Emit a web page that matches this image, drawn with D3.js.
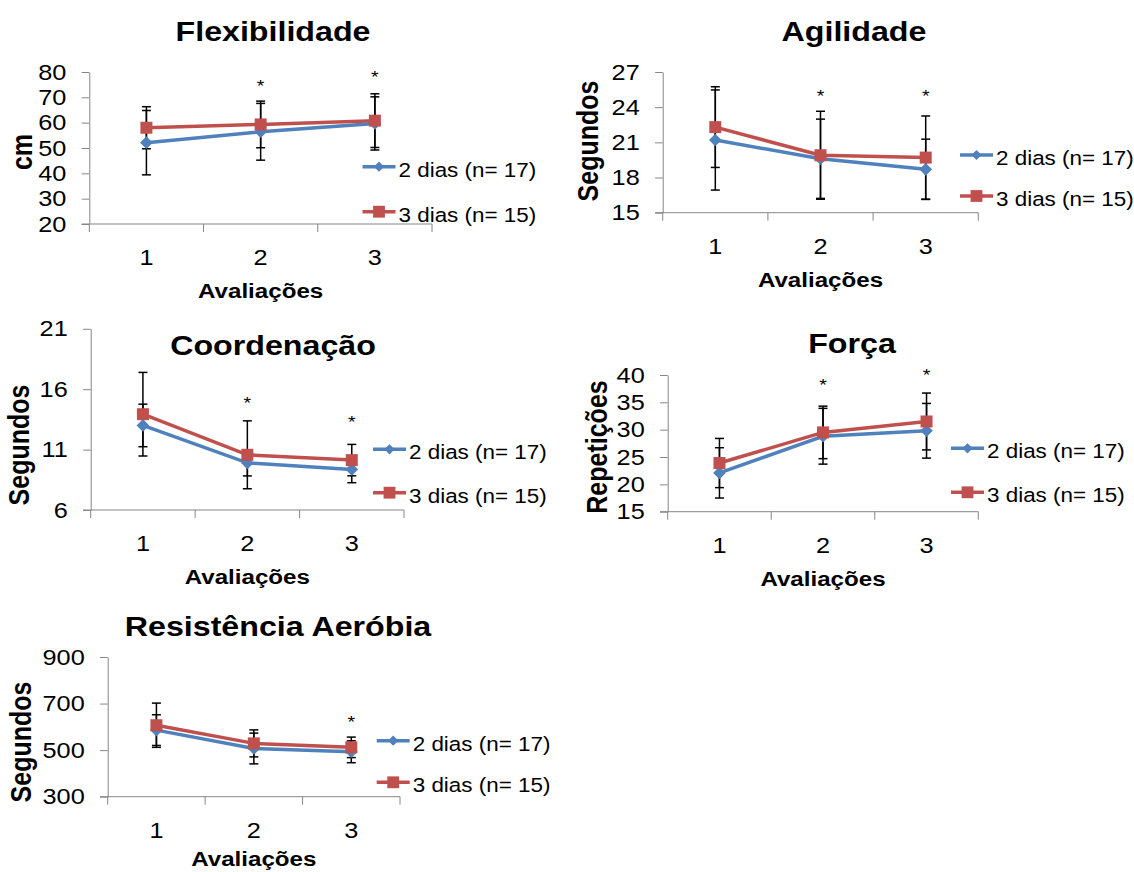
<!DOCTYPE html>
<html>
<head>
<meta charset="utf-8">
<script src="https://cdn.jsdelivr.net/npm/d3@7"></script>
<style>
  body { margin: 0; background: #fff; }
  text { font-family: "Liberation Sans", Arial, sans-serif; fill: #000; }
</style>
</head>
<body>
<script>
// categories and legend
const categories = ['1', '2', '3'];
const seriesNames = ['2 dias (n= 17)', '3 dias (n= 15)'];

// Flexibilidade (cm)
const flexTwo = [52.1, 56.4, 59.7];
const flexTwoErr = [12.7, 11.2, 10.5];
const flexThree = [58.0, 59.3, 60.8];
const flexThreeErr = [8.3, 9.2, 10.6];
const flexTicks = [20, 30, 40, 50, 60, 70, 80];
const flexStars = [['2', 75.5], ['3', 79.2]];

// Agilidade (segundos)
const agilTwo = [21.2, 19.6, 18.7];
const agilTwoErr = [4.27, 3.38, 2.57];
const agilThree = [22.3, 19.9, 19.7];
const agilThreeErr = [3.44, 3.75, 3.55];
const agilTicks = [15, 18, 21, 24, 27];
const agilStars = [['2', 25.2], ['3', 25.2]];

// Coordenação (segundos)
const coordTwo = [13.0, 9.9, 9.36];
const coordTwoErr = [1.76, 1.08, 1.1];
const coordThree = [13.93, 10.57, 10.13];
const coordThreeErr = [3.46, 2.81, 1.3];
const coordTicks = [6, 11, 16, 21];
const coordStars = [['2', 15.1], ['3', 13.5]];

// Força (repetições)
const forcaTwo = [22.1, 28.8, 29.8];
const forcaTwoErr = [4.6, 5.1, 5.0];
const forcaThree = [23.9, 29.5, 31.5];
const forcaThreeErr = [4.5, 4.8, 5.2];
const forcaTicks = [15, 20, 25, 30, 35, 40];
const forcaStars = [['2', 38.8], ['3', 40.6]];

// Resistência Aeróbia (segundos)
const resTwo = [586, 507, 493];
const resTwoErr = [66, 66, 47];
const resThree = [607, 529, 512];
const resThreeErr = [95, 58, 44];
const resTicks = [300, 500, 700, 900];
const resStars = [['3', 633]];

const COLORS = ['#4F81BD', '#C0504D'];
const AXIS = '#868686';
const SX = 1.15; // the picture is a bit wider than tall, text is stretched

const panels = [
  {title: 'Flexibilidade', yTitle: 'cm', ticks: flexTicks, stars: flexStars,
   series: [[flexTwo, flexTwoErr], [flexThree, flexThreeErr]],
   box: {x0: 89.3, x1: 432, y0: 72, y1: 224}, titleAt: [273, 40.7], xTitleDy: 74,
   yTitleAt: [31.7, 152], legend: {x: 362.5, y: [166.7, 211.7]}},
  {title: 'Agilidade', yTitle: 'Segundos', ticks: agilTicks, stars: agilStars,
   series: [[agilTwo, agilTwoErr], [agilThree, agilThreeErr]],
   box: {x0: 662.7, x1: 978.3, y0: 72, y1: 212.7}, titleAt: [854, 40.7], xTitleDy: 74,
   yTitleAt: [598, 141], legend: {x: 960, y: [155, 196]}},
  {title: 'Coordenação', yTitle: 'Segundos', ticks: coordTicks, stars: coordStars,
   series: [[coordTwo, coordTwoErr], [coordThree, coordThreeErr]],
   box: {x0: 90.7, x1: 404, y0: 328.8, y1: 510}, titleAt: [273, 355], xTitleDy: 74,
   yTitleAt: [29.4, 445], legend: {x: 373, y: [449.3, 492.7]}},
  {title: 'Força', yTitle: 'Repetições', ticks: forcaTicks, stars: forcaStars,
   series: [[forcaTwo, forcaTwoErr], [forcaThree, forcaThreeErr]],
   box: {x0: 667.7, x1: 978.3, y0: 375, y1: 511.7}, titleAt: [852, 352.7], xTitleDy: 74,
   yTitleAt: [607, 447], legend: {x: 951, y: [448.3, 492.3]}},
  {title: 'Resistência Aeróbia', yTitle: 'Segundos', ticks: resTicks, stars: resStars,
   series: [[resTwo, resTwoErr], [resThree, resThreeErr]],
   box: {x0: 107.7, x1: 400, y0: 657, y1: 796.7}, titleAt: [278, 636], xTitleDy: 69,
   yTitleAt: [30.5, 742], legend: {x: 376.7, y: [740.7, 782.3]}}
];

const svg = d3.select('body').append('svg')
  .attr('width', 1134).attr('height', 872);

function drawMarker(g, i, cx, cy, small) {
  if (i === 0) {
    g.append('path').attr('d', d3.symbol(d3.symbolSquare, small ? 52 : 80)())
      .attr('transform', `translate(${cx},${cy}) rotate(45)`)
      .attr('fill', COLORS[0]);
  } else {
    g.append('path').attr('d', d3.symbol(d3.symbolSquare, small ? 140 : 144)())
      .attr('transform', `translate(${cx},${cy})`)
      .attr('fill', COLORS[1]);
  }
}

panels.forEach(p => {
  const b = p.box;
  const g = svg.append('g');
  const x = d3.scaleBand().domain(categories).range([b.x0, b.x1]);
  const y = d3.scaleLinear().domain(d3.extent(p.ticks)).range([b.y1, b.y0]);
  const cx = c => x(c) + x.bandwidth() / 2;

  // y axis
  const gy = g.append('g')
    .attr('transform', `translate(${b.x0},0)`)
    .call(d3.axisLeft(y).tickValues(p.ticks).tickSize(7.6).tickSizeOuter(0));
  gy.select('.domain').attr('stroke', AXIS);
  gy.selectAll('.tick line').attr('stroke', AXIS);
  gy.selectAll('.tick text')
    .attr('x', -23 / SX)
    .attr('transform', `scale(${SX},1)`)
    .style('font-size', '22px')
    .style('font-family', '"Liberation Sans", Arial, sans-serif');

  // x axis: line, boundary ticks, labels
  g.append('line')
    .attr('x1', b.x0 - 7.6).attr('x2', b.x1)
    .attr('y1', b.y1).attr('y2', b.y1)
    .attr('stroke', AXIS);
  g.selectAll('.btick').data(d3.range(categories.length + 1)).enter()
    .append('line')
    .attr('x1', i => b.x0 + i * x.step()).attr('x2', i => b.x0 + i * x.step())
    .attr('y1', b.y1).attr('y2', b.y1 + 8)
    .attr('stroke', AXIS);
  const gx = g.append('g')
    .attr('transform', `translate(0,${b.y1})`)
    .call(d3.axisBottom(x).tickSize(0));
  gx.select('.domain').remove();
  gx.selectAll('.tick text')
    .attr('y', 41).attr('dy', 0)
    .attr('transform', `scale(${SX},1)`)
    .style('font-size', '22px')
    .style('font-family', '"Liberation Sans", Arial, sans-serif');

  // axis titles
  g.append('text')
    .attr('text-anchor', 'middle')
    .attr('transform', `translate(${(b.x0 + b.x1) / 2},${b.y1 + p.xTitleDy}) scale(${SX},1)`)
    .style('font-size', '21px').style('font-weight', 'bold')
    .text('Avaliações');
  g.append('text')
    .attr('text-anchor', 'middle')
    .attr('transform', `translate(${p.yTitleAt[0]},${p.yTitleAt[1]}) scale(${SX},1) rotate(-90)`)
    .style('font-size', '25px').style('font-weight', 'bold')
    .text(p.yTitle);

  // chart title
  g.append('text')
    .attr('text-anchor', 'middle')
    .attr('transform', `translate(${p.titleAt[0]},${p.titleAt[1]}) scale(${SX},1)`)
    .style('font-size', '28px').style('font-weight', 'bold')
    .text(p.title);

  // error bars first, lines and markers over them
  p.series.forEach(([vals, errs]) => {
    vals.forEach((v, k) => {
      const px = cx(categories[k]);
      const top = y(v + errs[k]), bot = y(v - errs[k]);
      g.append('line').attr('x1', px).attr('x2', px).attr('y1', top).attr('y2', bot)
        .attr('stroke', '#000').attr('stroke-width', 1.5);
      [top, bot].forEach(yy => {
        g.append('line').attr('x1', px - 4.5).attr('x2', px + 4.5).attr('y1', yy).attr('y2', yy)
          .attr('stroke', '#000').attr('stroke-width', 1.5);
      });
    });
  });

  const line = d3.line().x((v, k) => cx(categories[k])).y(v => y(v));
  p.series.forEach(([vals], i) => {
    g.append('path').datum(vals).attr('d', line)
      .attr('fill', 'none').attr('stroke', COLORS[i]).attr('stroke-width', 3.5);
    vals.forEach((v, k) => drawMarker(g, i, cx(categories[k]), y(v), false));
  });

  // significance marks
  p.stars.forEach(([c, v]) => {
    g.append('text')
      .attr('text-anchor', 'middle')
      .attr('transform', `translate(${cx(c)},${y(v) + 9}) scale(${SX},1)`)
      .style('font-size', '17px')
      .text('*');
  });

  // legend
  seriesNames.forEach((name, i) => {
    const ly = p.legend.y[i];
    g.append('line')
      .attr('x1', p.legend.x).attr('x2', p.legend.x + 33)
      .attr('y1', ly).attr('y2', ly)
      .attr('stroke', COLORS[i]).attr('stroke-width', 3.5);
    drawMarker(g, i, p.legend.x + 16.5, ly, true);
    g.append('text')
      .attr('transform', `translate(${p.legend.x + 36},${ly + 10}) scale(${SX},1)`)
      .style('font-size', '19.5px')
      .text(name);
  });
});
</script>
</body>
</html>
